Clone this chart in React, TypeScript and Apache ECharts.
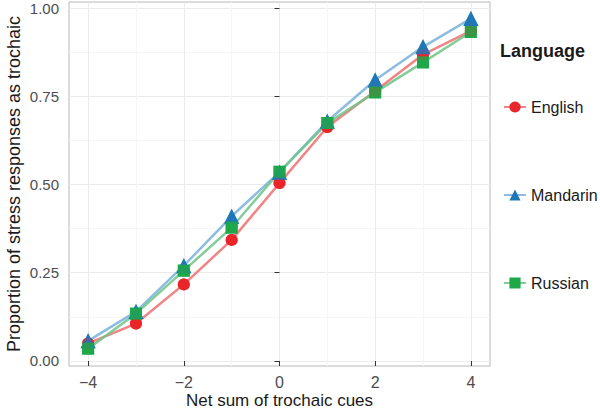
import React, { useEffect, useRef } from "react";
import * as echarts from "echarts";

const cues = [-4, -3, -2, -1, 0, 1, 2, 3, 4];
const english = [0.05, 0.106, 0.217, 0.343, 0.504, 0.663, 0.765, 0.868, 0.935];
const mandarin = [0.057, 0.14, 0.27, 0.41, 0.535, 0.679, 0.796, 0.89, 0.97];
const russian = [0.035, 0.134, 0.256, 0.378, 0.536, 0.674, 0.761, 0.846, 0.932];
const xTicks = [-4, -2, 0, 2, 4];
const xMinor = [-3, -1, 1, 3];
const yTicks = [0, 0.25, 0.5, 0.75, 1];
const yMinor = [0.125, 0.375, 0.625, 0.875];

const languages = ["English", "Mandarin", "Russian"];
const seriesValues = [english, mandarin, russian];
const pointColors = ["#E8262B", "#1F77B8", "#1EA84A"];
const lineColors = ["rgba(238,110,110,0.85)", "rgba(120,178,218,0.85)", "rgba(110,196,135,0.85)"];
const symbols = ["circle", "triangle", "rect"];
const symbolSizes = [12, 15, 12];

const FONT = "Liberation Sans, Arial, sans-serif";
const Y_MIN = -0.0142;
const Y_MAX = 1.017;

export default function App() {
  const ref = useRef<HTMLDivElement>(null);
  useEffect(() => {
    if (!ref.current) return;
    const chart = echarts.init(ref.current, null, { renderer: "svg" });
    const fmt = (v: number) => (v < 0 ? "\u2212" + Math.abs(v) : String(v));
    const lineSeries = languages.map((name, i) => ({
      name,
      type: "line",
      data: cues.map((c, j) => [c, seriesValues[i][j]]),
      symbol: symbols[i],
      symbolSize: symbolSizes[i],
      showSymbol: true,
      itemStyle: { color: pointColors[i] },
      lineStyle: { color: lineColors[i], width: 2.5 },
      z: 2,
    }));
    const pointSeries = languages.map((name, i) => ({
      name: name + " pts",
      type: "scatter",
      data: cues.map((c, j) => [c, seriesValues[i][j]]),
      symbol: symbols[i],
      symbolSize: symbolSizes[i],
      itemStyle: { color: pointColors[i] },
      z: 3,
    }));
    chart.setOption({
      animation: false,
      backgroundColor: "#ffffff",
      grid: {
        left: 69,
        right: 110,
        top: 2,
        bottom: 43,
        show: true,
        borderColor: "#b8b8b8",
        borderWidth: 1,
        containLabel: false,
        outerBoundsMode: "none",
      },
      xAxis: [
        {
          type: "value",
          min: -4.4,
          max: 4.4,
          name: "Net sum of trochaic cues",
          nameLocation: "middle",
          nameGap: 26,
          nameMoveOverlap: false,
          nameTextStyle: { fontFamily: FONT, fontSize: 17, color: "#1a1a1a" },
          axisLine: { show: false },
          axisTick: { show: true, customValues: xTicks, length: 5, lineStyle: { color: "#333" } },
          axisLabel: { customValues: xTicks, formatter: fmt, fontFamily: FONT, fontSize: 16, color: "#4d4d4d", margin: 8 },
          splitLine: { show: true, lineStyle: { color: "#ebebeb", width: 1 } },
        },
        {
          type: "value",
          min: -4.4,
          max: 4.4,
          show: true,
          axisLine: { show: false },
          axisTick: { show: false, customValues: xMinor },
          axisLabel: { show: false, customValues: xMinor },
          splitLine: { show: true, lineStyle: { color: "#f6f6f6", width: 1 } },
        },
      ],
      yAxis: [
        {
          type: "value",
          min: Y_MIN,
          max: Y_MAX,
          name: "Proportion of stress responses as trochaic",
          nameLocation: "middle",
          nameGap: 46,
          nameMoveOverlap: false,
          nameTextStyle: { fontFamily: FONT, fontSize: 18, color: "#1a1a1a" },
          axisLine: { show: false },
          axisTick: { show: true, customValues: yTicks, length: 5, lineStyle: { color: "#333" } },
          axisLabel: { customValues: yTicks, formatter: (v: number) => v.toFixed(2), fontFamily: FONT, fontSize: 15, color: "#4d4d4d", margin: 10 },
          splitLine: { show: true, lineStyle: { color: "#ebebeb", width: 1 } },
        },
        {
          type: "value",
          min: Y_MIN,
          max: Y_MAX,
          show: true,
          axisLine: { show: false },
          axisTick: { show: false, customValues: yMinor },
          axisLabel: { show: false, customValues: yMinor },
          splitLine: { show: true, lineStyle: { color: "#f6f6f6", width: 1 } },
        },
      ],
      legend: {
        data: languages,
        orient: "vertical",
        left: 498,
        top: 94,
        itemWidth: 22,
        itemHeight: 14,
        itemGap: 72,
        textStyle: { fontFamily: FONT, fontSize: 16, color: "#1a1a1a" },
      },
      graphic: [
        {
          type: "text",
          left: 500,
          top: 42,
          style: { text: "Language", fontFamily: FONT, fontSize: 18, fontWeight: "bold", fill: "#1a1a1a" },
        },
      ],
      series: [...lineSeries, ...pointSeries],
    });
    return () => chart.dispose();
  }, []);
  return <div ref={ref} style={{ width: 600, height: 409, position: "absolute", left: 0, top: 0 }} />;
}
